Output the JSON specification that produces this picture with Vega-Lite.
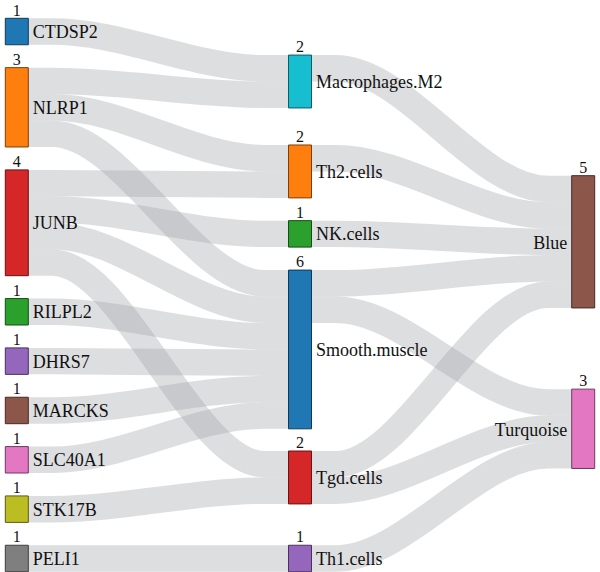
{
  "$schema": "https://vega.github.io/schema/vega-lite/v6.json",
  "width": 600,
  "height": 572,
  "padding": 0,
  "autosize": {"type": "none"},
  "background": "white",
  "config": {"view": {"stroke": null}, "font": "Liberation Serif, DejaVu Serif, serif"},
  "datasets": {
    "nodes": [
      {"node": "CTDSP2", "col": 0, "y0": 0, "y1": 1, "value": 1},
      {"node": "NLRP1", "col": 0, "y0": 1.865, "y1": 4.865, "value": 3},
      {"node": "JUNB", "col": 0, "y0": 5.731, "y1": 9.731, "value": 4},
      {"node": "RILPL2", "col": 0, "y0": 10.596, "y1": 11.596, "value": 1},
      {"node": "DHRS7", "col": 0, "y0": 12.462, "y1": 13.462, "value": 1},
      {"node": "MARCKS", "col": 0, "y0": 14.327, "y1": 15.327, "value": 1},
      {"node": "SLC40A1", "col": 0, "y0": 16.192, "y1": 17.192, "value": 1},
      {"node": "STK17B", "col": 0, "y0": 18.058, "y1": 19.058, "value": 1},
      {"node": "PELI1", "col": 0, "y0": 19.923, "y1": 20.923, "value": 1},
      {"node": "Macrophages.M2", "col": 1, "y0": 1.39, "y1": 3.39, "value": 2},
      {"node": "Th2.cells", "col": 1, "y0": 4.79, "y1": 6.79, "value": 2},
      {"node": "NK.cells", "col": 1, "y0": 7.65, "y1": 8.65, "value": 1},
      {"node": "Smooth.muscle", "col": 1, "y0": 9.52, "y1": 15.52, "value": 6},
      {"node": "Tgd.cells", "col": 1, "y0": 16.36, "y1": 18.36, "value": 2},
      {"node": "Th1.cells", "col": 1, "y0": 19.923, "y1": 20.923, "value": 1},
      {"node": "Blue", "col": 2, "y0": 5.95, "y1": 10.95, "value": 5},
      {"node": "Turquoise", "col": 2, "y0": 14.02, "y1": 17.02, "value": 3}
    ],
    "links": [
      {"link": "CTDSP2-M2", "value": 1, "x": 0.04, "y": 0.5},
      {"link": "CTDSP2-M2", "value": 1, "x": 0.125, "y": 0.5},
      {"link": "CTDSP2-M2", "value": 1, "x": 0.875, "y": 1.89},
      {"link": "CTDSP2-M2", "value": 1, "x": 0.96, "y": 1.89},
      {"link": "NLRP1-M2", "value": 1, "x": 0.04, "y": 2.365},
      {"link": "NLRP1-M2", "value": 1, "x": 0.125, "y": 2.365},
      {"link": "NLRP1-M2", "value": 1, "x": 0.875, "y": 2.89},
      {"link": "NLRP1-M2", "value": 1, "x": 0.96, "y": 2.89},
      {"link": "NLRP1-Th2", "value": 1, "x": 0.04, "y": 3.365},
      {"link": "NLRP1-Th2", "value": 1, "x": 0.125, "y": 3.365},
      {"link": "NLRP1-Th2", "value": 1, "x": 0.875, "y": 5.29},
      {"link": "NLRP1-Th2", "value": 1, "x": 0.96, "y": 5.29},
      {"link": "NLRP1-Smooth", "value": 1, "x": 0.04, "y": 4.365},
      {"link": "NLRP1-Smooth", "value": 1, "x": 0.125, "y": 4.365},
      {"link": "NLRP1-Smooth", "value": 1, "x": 0.875, "y": 10.02},
      {"link": "NLRP1-Smooth", "value": 1, "x": 0.96, "y": 10.02},
      {"link": "JUNB-Th2", "value": 1, "x": 0.04, "y": 6.231},
      {"link": "JUNB-Th2", "value": 1, "x": 0.125, "y": 6.231},
      {"link": "JUNB-Th2", "value": 1, "x": 0.875, "y": 6.29},
      {"link": "JUNB-Th2", "value": 1, "x": 0.96, "y": 6.29},
      {"link": "JUNB-NK", "value": 1, "x": 0.04, "y": 7.231},
      {"link": "JUNB-NK", "value": 1, "x": 0.125, "y": 7.231},
      {"link": "JUNB-NK", "value": 1, "x": 0.875, "y": 8.15},
      {"link": "JUNB-NK", "value": 1, "x": 0.96, "y": 8.15},
      {"link": "JUNB-Smooth", "value": 1, "x": 0.04, "y": 8.231},
      {"link": "JUNB-Smooth", "value": 1, "x": 0.125, "y": 8.231},
      {"link": "JUNB-Smooth", "value": 1, "x": 0.875, "y": 11.02},
      {"link": "JUNB-Smooth", "value": 1, "x": 0.96, "y": 11.02},
      {"link": "JUNB-Tgd", "value": 1, "x": 0.04, "y": 9.231},
      {"link": "JUNB-Tgd", "value": 1, "x": 0.125, "y": 9.231},
      {"link": "JUNB-Tgd", "value": 1, "x": 0.875, "y": 16.86},
      {"link": "JUNB-Tgd", "value": 1, "x": 0.96, "y": 16.86},
      {"link": "RILPL2-Smooth", "value": 1, "x": 0.04, "y": 11.096},
      {"link": "RILPL2-Smooth", "value": 1, "x": 0.125, "y": 11.096},
      {"link": "RILPL2-Smooth", "value": 1, "x": 0.875, "y": 12.02},
      {"link": "RILPL2-Smooth", "value": 1, "x": 0.96, "y": 12.02},
      {"link": "DHRS7-Smooth", "value": 1, "x": 0.04, "y": 12.962},
      {"link": "DHRS7-Smooth", "value": 1, "x": 0.125, "y": 12.962},
      {"link": "DHRS7-Smooth", "value": 1, "x": 0.875, "y": 13.02},
      {"link": "DHRS7-Smooth", "value": 1, "x": 0.96, "y": 13.02},
      {"link": "MARCKS-Smooth", "value": 1, "x": 0.04, "y": 14.827},
      {"link": "MARCKS-Smooth", "value": 1, "x": 0.125, "y": 14.827},
      {"link": "MARCKS-Smooth", "value": 1, "x": 0.875, "y": 14.02},
      {"link": "MARCKS-Smooth", "value": 1, "x": 0.96, "y": 14.02},
      {"link": "SLC40A1-Smooth", "value": 1, "x": 0.04, "y": 16.692},
      {"link": "SLC40A1-Smooth", "value": 1, "x": 0.125, "y": 16.692},
      {"link": "SLC40A1-Smooth", "value": 1, "x": 0.875, "y": 15.02},
      {"link": "SLC40A1-Smooth", "value": 1, "x": 0.96, "y": 15.02},
      {"link": "STK17B-Tgd", "value": 1, "x": 0.04, "y": 18.558},
      {"link": "STK17B-Tgd", "value": 1, "x": 0.125, "y": 18.558},
      {"link": "STK17B-Tgd", "value": 1, "x": 0.875, "y": 17.86},
      {"link": "STK17B-Tgd", "value": 1, "x": 0.96, "y": 17.86},
      {"link": "PELI1-Th1", "value": 1, "x": 0.04, "y": 20.423},
      {"link": "PELI1-Th1", "value": 1, "x": 0.125, "y": 20.423},
      {"link": "PELI1-Th1", "value": 1, "x": 0.875, "y": 20.423},
      {"link": "PELI1-Th1", "value": 1, "x": 0.96, "y": 20.423},
      {"link": "M2-Blue", "value": 1, "x": 1.04, "y": 1.89},
      {"link": "M2-Blue", "value": 1, "x": 1.125, "y": 1.89},
      {"link": "M2-Blue", "value": 1, "x": 1.875, "y": 6.45},
      {"link": "M2-Blue", "value": 1, "x": 1.96, "y": 6.45},
      {"link": "Th2-Blue", "value": 1, "x": 1.04, "y": 5.29},
      {"link": "Th2-Blue", "value": 1, "x": 1.125, "y": 5.29},
      {"link": "Th2-Blue", "value": 1, "x": 1.875, "y": 7.45},
      {"link": "Th2-Blue", "value": 1, "x": 1.96, "y": 7.45},
      {"link": "NK-Blue", "value": 1, "x": 1.04, "y": 8.15},
      {"link": "NK-Blue", "value": 1, "x": 1.125, "y": 8.15},
      {"link": "NK-Blue", "value": 1, "x": 1.875, "y": 8.45},
      {"link": "NK-Blue", "value": 1, "x": 1.96, "y": 8.45},
      {"link": "Smooth-Blue", "value": 1, "x": 1.04, "y": 10.02},
      {"link": "Smooth-Blue", "value": 1, "x": 1.125, "y": 10.02},
      {"link": "Smooth-Blue", "value": 1, "x": 1.875, "y": 9.45},
      {"link": "Smooth-Blue", "value": 1, "x": 1.96, "y": 9.45},
      {"link": "Tgd-Blue", "value": 1, "x": 1.04, "y": 16.86},
      {"link": "Tgd-Blue", "value": 1, "x": 1.125, "y": 16.86},
      {"link": "Tgd-Blue", "value": 1, "x": 1.875, "y": 10.45},
      {"link": "Tgd-Blue", "value": 1, "x": 1.96, "y": 10.45},
      {"link": "Smooth-Turquoise", "value": 1, "x": 1.04, "y": 11.02},
      {"link": "Smooth-Turquoise", "value": 1, "x": 1.125, "y": 11.02},
      {"link": "Smooth-Turquoise", "value": 1, "x": 1.875, "y": 14.52},
      {"link": "Smooth-Turquoise", "value": 1, "x": 1.96, "y": 14.52},
      {"link": "Tgd-Turquoise", "value": 1, "x": 1.04, "y": 17.86},
      {"link": "Tgd-Turquoise", "value": 1, "x": 1.125, "y": 17.86},
      {"link": "Tgd-Turquoise", "value": 1, "x": 1.875, "y": 15.52},
      {"link": "Tgd-Turquoise", "value": 1, "x": 1.96, "y": 15.52},
      {"link": "Th1-Turquoise", "value": 1, "x": 1.04, "y": 20.423},
      {"link": "Th1-Turquoise", "value": 1, "x": 1.125, "y": 20.423},
      {"link": "Th1-Turquoise", "value": 1, "x": 1.875, "y": 16.52},
      {"link": "Th1-Turquoise", "value": 1, "x": 1.96, "y": 16.52}
    ]
  },
  "layer": [
    {
      "data": {"name": "links"},
      "mark": {"type": "line", "interpolate": "monotone", "stroke": "#a0a4aa", "strokeOpacity": 0.36, "strokeCap": "butt"},
      "encoding": {
        "x": {"field": "x", "type": "quantitative", "axis": null, "scale": {"domain": [-0.041667, 2.041667], "nice": false, "zero": false}},
        "y": {"field": "y", "type": "quantitative", "axis": null, "scale": {"domain": [-0.692, 20.934], "nice": false, "zero": false, "reverse": true}},
        "detail": {"field": "link"},
        "strokeWidth": {"field": "value", "type": "quantitative", "legend": null, "scale": {"domain": [0, 1], "range": [0, 26.45]}}
      }
    },
    {
      "data": {"name": "nodes"},
      "mark": {"type": "bar", "width": 23, "strokeWidth": 1},
      "encoding": {
        "x": {"field": "col", "type": "quantitative", "axis": null, "scale": {"domain": [-0.041667, 2.041667], "nice": false, "zero": false}},
        "y": {"field": "y0", "type": "quantitative", "axis": null, "scale": {"domain": [-0.692, 20.934], "nice": false, "zero": false, "reverse": true}},
        "y2": {"field": "y1"},
        "color": {"field": "node", "type": "nominal", "legend": null, "scale": {
          "domain": ["CTDSP2", "NLRP1", "JUNB", "RILPL2", "DHRS7", "MARCKS", "SLC40A1", "STK17B", "PELI1", "Macrophages.M2", "Th2.cells", "NK.cells", "Smooth.muscle", "Tgd.cells", "Th1.cells", "Blue", "Turquoise"],
          "range": ["#1f77b4", "#ff7f0e", "#d62728", "#2ca02c", "#9467bd", "#8c564b", "#e377c2", "#bcbd22", "#7f7f7f", "#17becf", "#ff7f0e", "#2ca02c", "#1f77b4", "#d62728", "#9467bd", "#8c564b", "#e377c2"]}},
        "stroke": {"field": "node", "type": "nominal", "legend": null, "scale": {
          "domain": ["CTDSP2", "NLRP1", "JUNB", "RILPL2", "DHRS7", "MARCKS", "SLC40A1", "STK17B", "PELI1", "Macrophages.M2", "Th2.cells", "NK.cells", "Smooth.muscle", "Tgd.cells", "Th1.cells", "Blue", "Turquoise"],
          "range": ["#0f3a58", "#7d3e07", "#691314", "#164e16", "#49325d", "#452a25", "#6f3a5f", "#5c5d11", "#3e3e3e", "#0b5d65", "#7d3e07", "#164e16", "#0f3a58", "#691314", "#49325d", "#452a25", "#6f3a5f"]}}
      }
    },
    {
      "data": {"name": "nodes"},
      "transform": [{"filter": "datum.col < 2"}, {"fold": ["y0", "y1"], "as": ["end", "pos"]}],
      "mark": {"type": "text", "align": "left", "baseline": "alphabetic", "dx": 16, "dy": 6.6, "font": "Liberation Serif, DejaVu Serif, serif", "fontSize": 18, "fill": "#111111"},
      "encoding": {
        "x": {"field": "col", "type": "quantitative", "axis": null, "scale": {"domain": [-0.041667, 2.041667], "nice": false, "zero": false}},
        "y": {"aggregate": "mean", "field": "pos", "type": "quantitative", "axis": null, "scale": {"domain": [-0.692, 20.934], "nice": false, "zero": false, "reverse": true}},
        "text": {"field": "node", "type": "nominal"}
      }
    },
    {
      "data": {"name": "nodes"},
      "transform": [{"filter": "datum.col == 2"}, {"fold": ["y0", "y1"], "as": ["end", "pos"]}],
      "mark": {"type": "text", "align": "right", "baseline": "alphabetic", "dx": -16, "dy": 6.8, "font": "Liberation Serif, DejaVu Serif, serif", "fontSize": 18, "fill": "#111111"},
      "encoding": {
        "x": {"field": "col", "type": "quantitative", "axis": null, "scale": {"domain": [-0.041667, 2.041667], "nice": false, "zero": false}},
        "y": {"aggregate": "mean", "field": "pos", "type": "quantitative", "axis": null, "scale": {"domain": [-0.692, 20.934], "nice": false, "zero": false, "reverse": true}},
        "text": {"field": "node", "type": "nominal"}
      }
    },
    {
      "data": {"name": "nodes"},
      "mark": {"type": "text", "align": "center", "baseline": "alphabetic", "dy": -2.8, "font": "Liberation Serif, DejaVu Serif, serif", "fontSize": 16, "fill": "#111111"},
      "encoding": {
        "x": {"field": "col", "type": "quantitative", "axis": null, "scale": {"domain": [-0.041667, 2.041667], "nice": false, "zero": false}},
        "y": {"field": "y0", "type": "quantitative", "axis": null, "scale": {"domain": [-0.692, 20.934], "nice": false, "zero": false, "reverse": true}},
        "text": {"field": "value", "type": "quantitative"}
      }
    }
  ]
}
